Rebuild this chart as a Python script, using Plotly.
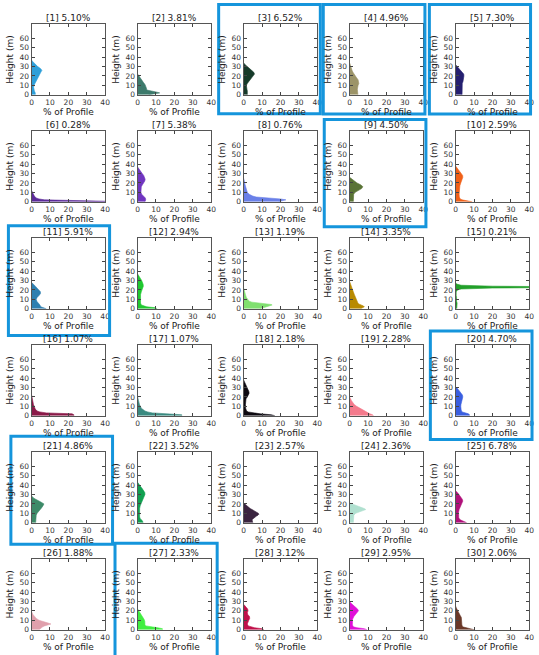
import plotly.graph_objects as go

# ---------------- data ----------------
PANEL_IDS = list(range(1, 31))
PANEL_SHARES = [5.10, 3.81, 6.52, 4.96, 7.30, 0.28, 5.38, 0.76, 4.50, 2.59,
                5.91, 2.94, 1.19, 3.35, 0.21, 1.07, 1.07, 2.18, 2.28, 4.70,
                4.86, 3.52, 2.57, 2.36, 6.78, 1.88, 2.33, 3.12, 2.95, 2.06]
PANEL_COLORS = ["#2e9fd9", "#3d7a6c", "#163a2a", "#9c9468", "#252070",
                "#5b2a99", "#7035c0", "#6a80e8", "#5a7436", "#f06018",
                "#2e7fb0", "#20c830", "#80e070", "#b88a00", "#22a02a",
                "#8a1a48", "#3a8a80", "#0d0a12", "#f47a8c", "#3a5fe0",
                "#3d8a68", "#10a050", "#3a2440", "#b0e0d0", "#b0107a",
                "#e0a0ac", "#40ee40", "#c0104a", "#e010d8", "#6a3828"]
BOXED_PANELS = [3, 4, 5, 9, 11, 20, 21, 27]

PROFILE_HEIGHTS = [
    [0, 2, 4, 6, 8, 10, 13, 16, 19, 22, 24, 26, 28, 30, 32, 34, 36, 37],
    [0, 1, 2, 3, 4, 5, 7, 9, 11, 13, 15, 17, 19, 21, 22],
    [0, 2, 4, 6, 8, 10, 12, 14, 16, 18, 20, 22, 24, 26, 28, 30, 32, 34],
    [0, 2, 4, 6, 8, 10, 12, 14, 16, 18, 20, 22, 24, 26, 28, 30, 32, 34],
    [0, 2, 4, 6, 8, 10, 12, 14, 16, 18, 20, 22, 24, 26, 28, 30, 32],
    [0, 0.5, 1, 1.5, 2, 3, 4, 6, 8, 10, 12],
    [0, 2, 4, 6, 8, 10, 12, 14, 16, 18, 20, 22, 24, 26, 28, 30, 32, 34, 37],
    [0, 1, 2, 3, 4, 5, 6, 8, 10, 14, 18, 22, 25],
    [0, 2, 4, 6, 8, 10, 12, 14, 16, 18, 20, 22, 24, 26],
    [0, 1, 2, 3, 5, 8, 11, 14, 17, 20, 23, 26, 28, 30, 32, 34, 36, 38],
    [0, 1, 2, 4, 6, 8, 10, 12, 14, 16, 18, 20, 22, 24, 26, 28],
    [0, 1, 2, 3, 4, 6, 9, 12, 15, 18, 20, 22, 24, 26, 28, 30, 32, 34, 37],
    [0, 1, 2, 3, 4, 4.5, 5, 6, 7, 8, 10, 12, 15, 18, 22],
    [0, 1, 2, 3, 4, 5, 6, 8, 10, 12, 15, 18, 20, 22, 25, 27, 29],
    [0, 2, 4, 6, 8, 10, 12, 14, 16, 18, 20, 21, 22, 23, 24, 25, 26, 27],
    [0, 1, 2, 2.5, 3, 4, 5, 7, 9, 12, 15, 18, 22],
    [0, 1, 1.5, 2, 3, 4, 5, 8, 12, 16, 20],
    [0, 1, 2, 3, 4, 5, 8, 12, 15, 18, 20, 22, 24, 26, 28, 30, 33, 35, 38],
    [0, 1, 2, 3, 4, 6, 8, 10, 12, 14, 16, 18, 20],
    [0, 1, 2, 3, 4, 6, 8, 10, 12, 14, 16, 18, 20, 22, 24, 26, 28, 31],
    [0, 2, 4, 6, 8, 10, 12, 14, 16, 18, 20, 22, 24, 26, 28.5],
    [0, 1, 2, 3, 4, 6, 9, 12, 15, 18, 21, 24, 27, 30, 32, 34, 36, 38, 40, 43],
    [0, 1, 2, 3, 4, 5, 6, 7, 8, 9, 10, 11, 12, 13, 14, 15, 17, 19, 21],
    [0, 2, 4, 6, 8, 10, 11, 12, 13, 14, 15, 16, 17, 18, 19, 20, 21],
    [0, 1, 2, 3, 5, 8, 11, 14, 17, 19, 21, 23, 25, 27, 29, 31, 34],
    [0, 1, 2, 3, 4, 5, 6, 7, 8, 9, 10, 12, 14, 16, 19],
    [0, 1, 2, 3, 4, 5, 7, 9, 11, 13, 15, 17, 19, 21, 22],
    [0, 1, 2, 3, 4, 6, 8, 10, 12, 14, 16, 18, 20, 22, 24, 27],
    [0, 1, 2, 3, 5, 8, 11, 14, 16, 18, 20, 22, 24, 26, 28, 30],
    [0, 1, 2, 3, 5, 8, 11, 13, 15, 17, 19, 21, 23, 25],
]
PROFILE_PCT = [
    [2, 2, 1.5, 1.2, 1.1, 1.3, 2, 2.8, 3.5, 4.3, 5, 5.6, 4.8, 3.3, 2.2, 1, 0.3, 0],
    [6, 11, 12, 10, 7, 5, 4.8, 4.5, 4, 3.2, 2.5, 1.8, 1, 0.3, 0],
    [2, 2.2, 2, 1.8, 1.5, 1.5, 2, 2.8, 3.6, 4.5, 5.3, 5.9, 5.5, 4.5, 3.2, 2, 0.8, 0],
    [4.5, 4.6, 4.3, 4.2, 4.3, 4.6, 5, 5, 4.6, 3.8, 3, 2.4, 1.8, 1.3, 0.9, 0.5, 0.2, 0],
    [3.5, 3.5, 3.4, 3.4, 3.5, 3.5, 3.6, 4, 4.3, 4.4, 4.5, 4.4, 3.6, 2.5, 1.6, 0.8, 0],
    [42, 42, 30, 14, 7, 4, 2.5, 1.5, 1, 0.6, 0],
    [4, 4.4, 4.2, 3, 2.2, 1.8, 1.8, 1.8, 2, 2.6, 3.3, 3.9, 4.1, 3.9, 3.3, 2.5, 1.7, 1, 0],
    [19, 21, 23, 20, 12, 7, 5, 3, 2, 1.2, 0.8, 0.4, 0],
    [2, 2, 2, 2, 2.2, 3, 5, 6.5, 7.2, 6, 4, 2.5, 1, 0],
    [9, 6, 3.5, 2.5, 2, 1.9, 1.9, 2, 2.3, 2.8, 3.5, 3.9, 3.8, 3.2, 2.3, 1.5, 0.7, 0],
    [8, 6, 5, 4.5, 3.5, 2.8, 2.5, 3, 4, 4.8, 4.8, 4, 3, 2, 1, 0],
    [10.5, 10, 5, 3, 2, 1.6, 1.5, 1.5, 1.6, 2, 2.5, 3, 3.1, 3, 2.7, 2.2, 1.6, 1, 0],
    [9, 11, 13, 14.5, 15.5, 15, 12, 7, 4.5, 3, 2, 1.5, 1, 0.6, 0],
    [6, 7.5, 8, 7.5, 6, 5, 4.5, 4, 3.6, 3.3, 2.6, 2, 1.7, 1.3, 0.8, 0.4, 0],
    [0.6, 0.8, 0.6, 0.8, 0.5, 0.6, 0.5, 0.3, 0.2, 0.3, 1, 3, 20, 80, 20, 3, 1, 0],
    [23, 23, 22, 14, 8, 4.5, 3, 2, 1.5, 1, 0.7, 0.4, 0],
    [24, 24, 20, 15, 8, 5.5, 4, 2, 1, 0.5, 0],
    [17, 15, 9, 4.5, 2.5, 1.6, 1.1, 1, 1, 1.3, 2, 2.7, 3, 2.8, 2.3, 1.6, 1, 0.5, 0],
    [13, 12.5, 11, 10, 9.3, 7.5, 5.5, 3.8, 2.5, 1.6, 1, 0.5, 0],
    [7.5, 7.5, 7, 5, 3.5, 3, 2.8, 2.8, 2.9, 3.1, 3.4, 3.8, 3.9, 3.7, 3, 2.2, 1.4, 0],
    [2.2, 2.2, 2.1, 2.2, 2.5, 3, 4, 4.8, 5.5, 6.2, 6.7, 5, 3, 1.2, 0],
    [3, 3, 2.6, 2, 1.5, 1.1, 1, 1, 1.1, 1.4, 2, 2.7, 3.5, 4, 3.9, 3.4, 2.6, 1.8, 1, 0],
    [5, 4.8, 4.5, 4.6, 5, 5.5, 6.2, 7, 7.8, 8.3, 8, 7.3, 6.5, 5.6, 4.6, 3.6, 2.2, 1, 0],
    [2, 2, 2, 2, 2.3, 3.3, 4.5, 6, 7.5, 8.8, 8, 6.5, 5, 3.5, 2.2, 1, 0],
    [6, 5, 3.5, 2.5, 1.7, 1.5, 1.6, 1.9, 2.5, 3.1, 3.6, 3.9, 3.6, 3, 2.2, 1.4, 0],
    [4, 4.5, 5, 6, 7, 8.5, 10.5, 9, 7, 5.5, 4, 2.5, 1.5, 0.8, 0],
    [13.5, 13.5, 11, 7, 4.5, 4, 4, 3.9, 3.5, 2.8, 2.1, 1.5, 0.9, 0.3, 0],
    [11, 10, 6, 3.5, 2.5, 2, 2.2, 2.8, 3.3, 3.2, 2.3, 2, 2.4, 2.2, 1.3, 0],
    [9.4, 8, 4, 2, 1.5, 1.4, 1.6, 2.3, 3.2, 4.3, 4.8, 4.3, 3, 1.8, 0.8, 0],
    [10, 8, 5, 3.8, 3.4, 3.3, 3.3, 3.1, 2.5, 1.9, 1.3, 0.8, 0.4, 0],
]
X_TICKS = [0, 10, 20, 30, 40]
Y_TICKS = [0, 10, 20, 30, 40, 50, 60]

# ---------------- layout geometry (pixels) ----------------
W, H = 539, 655
PW, PH = 74.5, 71
COL_LEFT = [30 + 107.4 * i for i in range(5)]
ROW_TOP = [24.5 + 107.8 * j for j in range(6)]
BOX_RECTS = {3: (219.5, 4.5, 322.5, 114.5), 4: (325.5, 4.5, 428.5, 115),
             5: (433, 4.5, 535.5, 115), 9: (326.5, 120.5, 429.5, 228.5),
             11: (6.5, 227.5, 109, 338), 20: (434, 333.5, 537, 443),
             21: (9, 439.5, 112, 548.5), 27: (114.5, 547.5, 218, 662)}

FONT = "DejaVu Sans"
fig = go.Figure()
layout = dict(width=W, height=H, margin=dict(l=0, r=0, t=0, b=0),
              paper_bgcolor="white", plot_bgcolor="white",
              font=dict(family=FONT, color="#222"), showlegend=False,
              annotations=[], shapes=[])

for k, pid in enumerate(PANEL_IDS):
    r, c = divmod(k, 5)
    left, top = COL_LEFT[c], ROW_TOP[r]
    xd = [left / W, (left + PW) / W]
    yd = [1 - (top + PH) / H, 1 - top / H]
    sfx = "" if k == 0 else str(k + 1)
    common = dict(ticks="inside", ticklen=3, tickcolor="#444", tickwidth=0.8,
                  showline=True, linecolor="#555", linewidth=1, mirror="ticks",
                  showgrid=False, zeroline=False, fixedrange=True,
                  tickfont=dict(size=7.5, color="#333", family=FONT))
    layout["xaxis" + sfx] = dict(domain=xd, range=[0, 40], tickvals=X_TICKS,
                                 anchor="y" + sfx,
                                 title=dict(text="% of Profile", standoff=1,
                                            font=dict(size=9, color="#222")),
                                 **common)
    layout["yaxis" + sfx] = dict(domain=yd, range=[0, 75], tickvals=Y_TICKS,
                                 anchor="x" + sfx,
                                 title=dict(text="Height (m)", standoff=4,
                                            font=dict(size=9, color="#222")),
                                 **common)
    col = PANEL_COLORS[k]
    fig.add_trace(go.Scatter(x=PROFILE_PCT[k], y=PROFILE_HEIGHTS[k],
                             mode="lines", fill="tozerox", fillcolor=col,
                             line=dict(color=col, width=0.6),
                             xaxis="x" + sfx, yaxis="y" + sfx,
                             hoverinfo="skip", showlegend=False))
    layout["annotations"].append(dict(
        text=f"[{pid}] {PANEL_SHARES[k]:.2f}%", x=(xd[0] + xd[1]) / 2, y=yd[1],
        xref="paper", yref="paper", xanchor="center", yanchor="bottom",
        yshift=-1, showarrow=False, font=dict(size=9, color="#222", family=FONT)))

for pid in BOXED_PANELS:
    x0, y0, x1, y1 = BOX_RECTS[pid]
    layout["shapes"].append(dict(type="rect", xref="paper", yref="paper",
                                 x0=x0 / W, x1=x1 / W, y0=1 - y1 / H, y1=1 - y0 / H,
                                 line=dict(color="#1595dc", width=3),
                                 fillcolor="rgba(0,0,0,0)"))

fig.update_layout(**layout)
fig.write_html("out.html", config={"displayModeBar": False},
               post_script="document.body.style.margin='0';"
                           "document.body.style.overflow='hidden';")
